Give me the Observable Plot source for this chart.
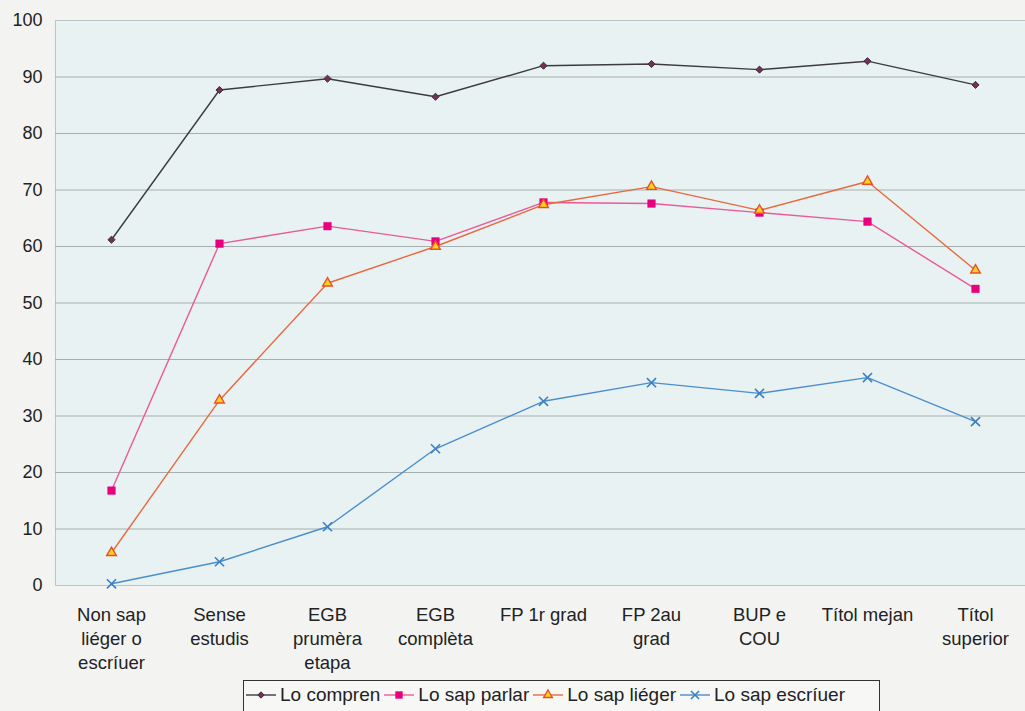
<!DOCTYPE html>
<html>
<head>
<meta charset="utf-8">
<script src="https://cdn.jsdelivr.net/npm/d3@7"></script>
<script src="https://cdn.jsdelivr.net/npm/@observablehq/plot@0.6"></script>
<style>
  html, body { margin: 0; padding: 0; background: #f3f4f2; width: 1025px; height: 711px; overflow: hidden; }
  body { font-family: "Liberation Sans", Arial, sans-serif; position: relative; }
  #chart { position: absolute; left: 0; top: 0; }
  #legend { position: absolute; left: 243px; top: 680px; width: 637px; height: 40px; border: 1.5px solid #333; background: #f7f7f5; box-sizing: border-box; display: flex; align-items: flex-start; padding-top: 2px; padding-left: 1px; font-size: 19px; color: #222; white-space: nowrap; }
  .item { display: flex; align-items: center; margin-right: 3px; }
  .item svg { margin-right: 3px; }
</style>
</head>
<body>
<div id="chart"></div>
<div id="legend"></div>
<script>
const categories = ["Non sap\nliéger o\nescríuer", "Sense\nestudis", "EGB\nprumèra\netapa", "EGB\ncomplèta", "FP 1r grad", "FP 2au\ngrad", "BUP e\nCOU", "Títol mejan", "Títol\nsuperior"];
const seriesNames = ["Lo compren", "Lo sap parlar", "Lo sap liéger", "Lo sap escríuer"];
const compren = [61.2, 87.7, 89.7, 86.5, 92.0, 92.3, 91.3, 92.8, 88.6];
const parlar = [16.8, 60.5, 63.6, 60.9, 67.8, 67.6, 66.0, 64.4, 52.5];
const lieger = [5.8, 32.8, 53.5, 60.0, 67.4, 70.6, 66.4, 71.5, 55.8];
const escriuer = [0.3, 4.2, 10.4, 24.2, 32.6, 35.9, 34.0, 36.8, 29.0];
const yTicks = [0, 10, 20, 30, 40, 50, 60, 70, 80, 90, 100];

const styles = [
  {line: "#3c3c3c", symbol: "diamond2", fill: "#7b2b5e", stroke: "#333", r: 3.2, sw: 1},
  {line: "#ea5a98", symbol: "square", fill: "#e6007e", stroke: "#e6007e", r: 4.3, sw: 0.5},
  {line: "#e8693f", symbol: "triangle", fill: "#ffd21a", stroke: "#e8502a", r: 3.6, sw: 1.4},
  {line: "#4a8fcc", symbol: "times", fill: "none", stroke: "#3b7fc4", r: 4.2, sw: 1.6}
];
const values = [compren, parlar, lieger, escriuer];
const data = [];
seriesNames.forEach((s, i) => values[i].forEach((v, j) => data.push({series: s, cat: categories[j], value: v, idx: i})));

const marks = [
  Plot.frame({fill: "#e8f2f2", stroke: "#b9c6c6"}),
  Plot.ruleY(yTicks.filter(d => d > 0 && d < 100), {stroke: "#a7aeae", strokeWidth: 1.2}),
  Plot.axisY({ticks: yTicks, tickSize: 0, tickPadding: 13, fontSize: 18, fill: "#222"}),
  Plot.axisX({tickSize: 0, tickPadding: 18, fontSize: 18.5, fill: "#222", lineHeight: 1.3, textAnchor: "middle"})
];
seriesNames.forEach((s, i) => {
  const d = data.filter(e => e.idx === i);
  const st = styles[i];
  marks.push(Plot.line(d, {x: "cat", y: "value", stroke: st.line, strokeWidth: 1.4}));
});
seriesNames.forEach((s, i) => {
  const d = data.filter(e => e.idx === i);
  const st = styles[i];
  marks.push(Plot.dot(d, {x: "cat", y: "value", symbol: () => st.symbol, r: st.r, fill: st.fill, stroke: st.stroke, strokeWidth: st.sw}));
});

const chart = Plot.plot({
  width: 1025,
  height: 676,
  marginTop: 20,
  marginBottom: 91,
  marginLeft: 55,
  marginRight: 0,
  style: {background: "transparent", fontFamily: "'Liberation Sans', Arial, sans-serif"},
  x: {type: "point", domain: categories, range: [108.5, 978], padding: 0, label: null},
  y: {domain: [0, 100], label: null},
  symbol: {type: "identity"},
  marks
});
document.getElementById("chart").appendChild(chart);

// legend
const legend = document.getElementById("legend");
seriesNames.forEach((s, i) => {
  const st = styles[i];
  const item = document.createElement("div");
  item.className = "item";
  const svg = d3.create("svg").attr("width", 32).attr("height", 24);
  svg.append("line").attr("x1", 1).attr("x2", 31).attr("y1", 12).attr("y2", 12).attr("stroke", st.line).attr("stroke-width", 1.4);
  const symMap = {diamond2: d3.symbolDiamond2, square: d3.symbolSquare, triangle: d3.symbolTriangle, times: d3.symbolTimes};
  svg.append("path").attr("transform", "translate(16,12)")
    .attr("d", d3.symbol(symMap[st.symbol], Math.PI * st.r * st.r * 0.8)())
    .attr("fill", st.fill).attr("stroke", st.stroke).attr("stroke-width", st.sw);
  item.appendChild(svg.node());
  const t = document.createElement("span");
  t.textContent = s;
  item.appendChild(t);
  legend.appendChild(item);
});
</script>
</body>
</html>
